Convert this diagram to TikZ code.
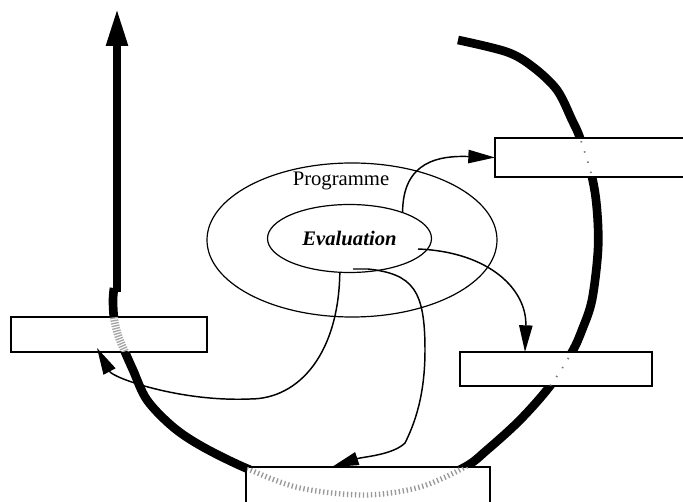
\documentclass[tikz,border=0pt]{standalone}
\usepackage{fontspec}
\setmainfont{Liberation Serif}
\usetikzlibrary{arrows.meta,shapes.geometric,calc}

% the large closed-loop band that runs round the whole cycle
\newcommand\ringcurve{plot[smooth, tension=0.55] coordinates {(458,40) (507,52) (533,67) (557,90) (572,120) (580,138) (592,177) (597,210) (598,250) (592,300) (582,330) (572,352) (550,386) (520,420) (487,450) (465,467) (420,487) (365,495) (300,488) (248,469) (203,447) (173,427) (147,400) (133,370) (125,352) (118,335) (114,318) (113,300) (114,288)}}

\tikzset{
  ring/.style={line width=6.5pt, line join=round},
  stem/.style={line width=6pt, -{Triangle[length=28.5pt, width=15pt]}},
  box/.style={draw, fill=white, line width=1.1pt, rectangle, inner sep=0pt, outer sep=0pt, anchor=north west},
  oval/.style={draw, ellipse, line width=0.9pt, inner sep=0pt, outer sep=0pt},
  conn/.style={line width=1.1pt, -{Triangle[length=20pt, width=10pt]}},
  stippledense/.style={line width=6pt, black!35, dash pattern=on 1pt off 1pt},
  stipplebottom/.style={line width=4pt, black!40, dash pattern=on 1pt off 2pt},
  stipplesparse/.style={line width=1.3pt, black!55, dash pattern=on 1pt off 7pt},
  lbl/.style={font=\fontsize{15.5}{18}\selectfont},
}

\begin{document}
\begin{tikzpicture}[x=0.75pt, y=-0.75pt]
  \useasboundingbox (0,0) rectangle (683,502);
  \clip (0,0) rectangle (683,502);

  % loop band and the outgoing vertical arrow
  \draw[ring] \ringcurve;
  \coordinate (stembase) at (117,292);
  \coordinate (stemtip) at (117,8);
  \draw[stem] (stembase) -- (stemtip);

  % nested ovals
  \node[oval, minimum width=217.5pt, minimum height=115.5pt] (prog) at (352,240) {};
  \node[oval, minimum width=123pt, minimum height=51pt, lbl] (eval) at (349.5,238.5) {\textbf{\textit{Evaluation}}};
  \node[lbl, anchor=base, inner sep=0pt] (progtitle) at (341,186) {Programme};

  % boxes placed on the loop
  \node[box, minimum width=147pt, minimum height=26.25pt] (rectL) at (11,317) {};
  \node[box, minimum width=150pt, minimum height=29.25pt] (rectT) at (495,138) {};
  \node[box, minimum width=144pt, minimum height=25.5pt] (rectR) at (460,352) {};
  \node[box, minimum width=183pt, minimum height=45pt] (rectB) at (246,467) {};

  % the loop showing faintly through each box
  \begin{scope}
    \clip ([xshift=.6pt,yshift=.6pt]rectL.south west) rectangle ([xshift=-.6pt,yshift=-.6pt]rectL.north east);
    \draw[stippledense] \ringcurve;
  \end{scope}
  \begin{scope}
    \clip ([xshift=.6pt,yshift=.6pt]rectB.south west) rectangle ([xshift=-.6pt,yshift=-.6pt]rectB.north east);
    \draw[stipplebottom] \ringcurve;
  \end{scope}
  \begin{scope}
    \clip ([xshift=.6pt,yshift=.6pt]rectT.south west) rectangle ([xshift=-.6pt,yshift=-.6pt]rectT.north east);
    \draw[stipplesparse] \ringcurve;
  \end{scope}
  \begin{scope}
    \clip ([xshift=.6pt,yshift=.6pt]rectR.south west) rectangle ([xshift=-.6pt,yshift=-.6pt]rectR.north east);
    \draw[stipplesparse] \ringcurve;
  \end{scope}

  % connectors from the evaluation oval to the boxes
  \draw[conn] (eval.26) .. controls +(0,-52) and +(-55,-2) .. (rectT.west);
  \draw[conn] ($(eval.center)+(68.5,10.5)$) .. controls +(72,3) and +(2,-62) .. ($(rectR.north west)+(65,0)$);
  \draw[conn] (eval.254) .. controls +(-1,80) and +(50,0) .. (250,399)
              .. controls +(-70,3) and +(16,30) .. ($(rectL.south west)+(86,-4)$);
  \draw[conn] ($(eval.center)+(3.5,30.5)$) -- +(15,0)
              .. controls +(45,5) and +(0,-60) .. (425,350)
              .. controls +(0,45) and +(10,-20) .. (405,443)
              .. controls +(-12,12) and +(30,-10) .. ($(rectB.north west)+(86,0)$);
\end{tikzpicture}
\end{document}
